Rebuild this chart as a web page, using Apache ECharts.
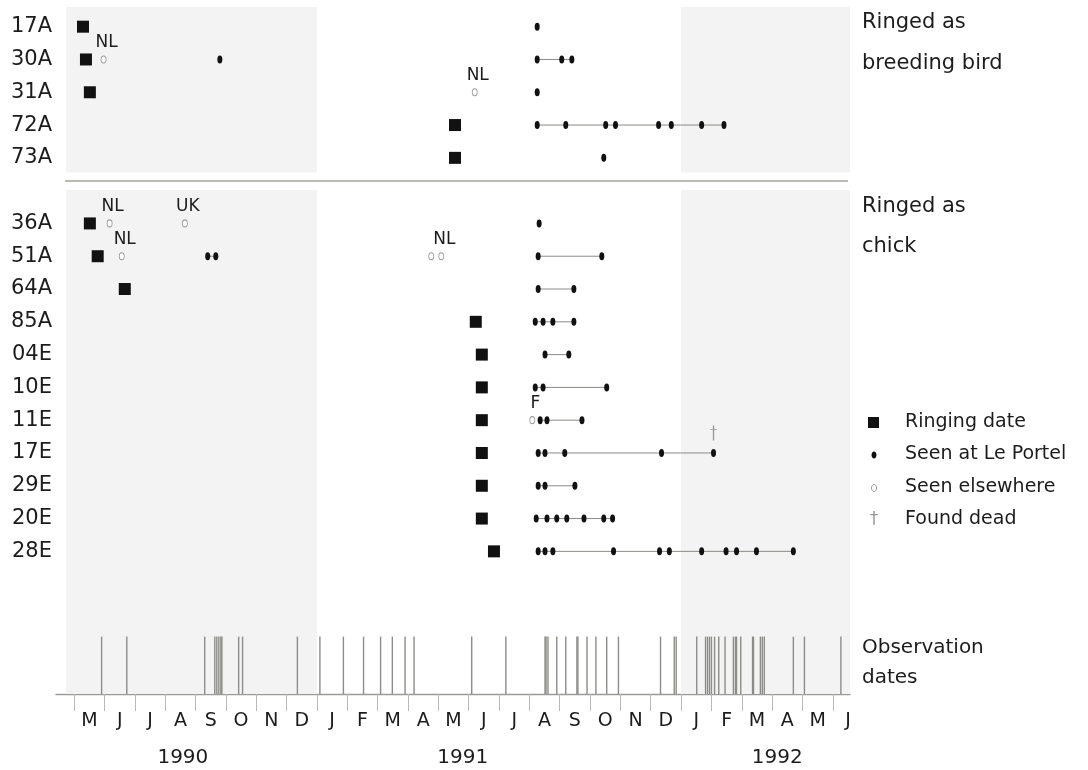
<!DOCTYPE html>
<html><head><meta charset="utf-8">
<script src="https://cdn.jsdelivr.net/npm/echarts@6/dist/echarts.min.js"></script>
<style>html,body{margin:0;padding:0;background:#fff}#c{width:1088px;height:770px}</style>
</head><body><div id="c"></div>
<script>
// ---------------- DATA ----------------
const breedingBirds = ['17A','30A','31A','72A','73A'];
const chickBirds = ['36A','51A','64A','85A','04E','10E','11E','17E','29E','20E','28E'];

// ringing date per bird (same order: breeding then chick)
const ringingDates = [
  '1990-05-10','1990-05-13','1990-05-17','1991-05-18','1991-05-18',
  '1990-05-17','1990-05-25','1990-06-21','1991-06-08','1991-06-14','1991-06-14',
  '1991-06-14','1991-06-14','1991-06-14','1991-06-14','1991-06-26'
];

// sightings at Le Portel per bird
const portelSightings = [
  ['1991-08-09'],
  ['1990-09-25','1991-08-09','1991-09-03','1991-09-13'],
  ['1991-08-09'],
  ['1991-08-09','1991-09-07','1991-10-17','1991-10-27','1991-12-09','1991-12-22','1992-01-22','1992-02-13'],
  ['1991-10-15'],
  ['1991-08-11'],
  ['1990-09-13','1990-09-21','1991-08-10','1991-10-13'],
  ['1991-08-10','1991-09-15'],
  ['1991-08-07','1991-08-15','1991-08-25','1991-09-15'],
  ['1991-08-17','1991-09-10'],
  ['1991-08-07','1991-08-15','1991-10-18'],
  ['1991-08-12','1991-08-19','1991-09-23'],
  ['1991-08-10','1991-08-17','1991-09-06','1991-12-12','1992-02-03'],
  ['1991-08-10','1991-08-17','1991-09-16'],
  ['1991-08-08','1991-08-19','1991-08-29','1991-09-08','1991-09-25','1991-10-15','1991-10-24'],
  ['1991-08-10','1991-08-17','1991-08-25','1991-10-25','1991-12-10','1991-12-20','1992-01-22','1992-02-15','1992-02-25','1992-03-16','1992-04-22']
];

// sightings elsewhere: bird, date, place
const elsewhereBirds  = ['30A','31A','36A','36A','51A','51A','51A','11E'];
const elsewhereDates  = ['1990-05-31','1991-06-07','1990-06-06','1990-08-21','1990-06-18','1991-04-24','1991-05-04','1991-08-04'];
const elsewherePlaces = ['NL','NL','NL','UK','NL','NL','NL','F'];

// found dead
const deadBirds = ['17E'];
const deadDates = ['1992-02-03'];

// observation dates
const observationDates = [
  '1990-05-29','1990-06-23','1990-09-10','1990-09-20','1990-09-22','1990-09-24','1990-09-26','1990-09-27',
  '1990-10-14','1990-10-18','1990-12-12',
  '1991-01-04','1991-01-28','1991-02-16','1991-03-04','1991-03-16','1991-03-29','1991-04-07','1991-06-04',
  '1991-07-08','1991-08-17','1991-08-18','1991-08-20','1991-08-29','1991-09-07','1991-09-18','1991-09-19',
  '1991-09-28','1991-10-07','1991-10-18','1991-10-30','1991-12-11','1991-12-25','1991-12-27',
  '1992-01-17','1992-01-26','1992-01-28','1992-01-30','1992-02-01','1992-02-04','1992-02-08','1992-02-14',
  '1992-02-22','1992-02-24','1992-02-25','1992-02-29','1992-03-12','1992-03-13','1992-03-20','1992-03-22',
  '1992-03-24','1992-04-22','1992-05-03','1992-06-09'
];

// shaded periods (start, end)
const shadedStarts = ['1990-04-23','1992-01-01'];
const shadedEnds   = ['1991-01-01','1992-06-18'];

// axis
const axisStart = '1990-04-13';
const axisEnd = '1992-06-18';
const monthLetters = ['M','J','J','A','S','O','N','D','J','F','M','A','M','J','J','A','S','O','N','D','J','F','M','A','M','J'];
const yearLabels = ['1990','1991','1992'];
const yearLabelDates = ['1990-08-19','1991-05-26','1992-04-06'];

// ---------------- LAYOUT ----------------
const FONT = 'DejaVu Sans, Liberation Sans, Arial, sans-serif';
const TXT = '#1c1c1c';
const Y_MIN = -0.6, Y_MAX = 20.35;
const SEP_ROW = 4.71, GAP_TOP = 4.45, GAP_BOTTOM = 4.98, OBS_TOP = 18.6;

// months since 1 May 1990 (axis scale)
function toM(s){
  const p = s.split('-').map(Number);
  const dim = new Date(p[0], p[1], 0).getDate();
  return (p[0]-1990)*12 + (p[1]-5) + (p[2]-1)/dim;
}
const X_MIN = toM(axisStart), X_MAX = toM(axisEnd);

const birds = breedingBirds.concat(chickBirds);
const rowOf = {};
breedingBirds.forEach((b,i)=>rowOf[b]=i);
chickBirds.forEach((b,i)=>rowOf[b]=i+breedingBirds.length+1);
const rowName = {};
birds.forEach(b=>rowName[rowOf[b]]=b);

const ringData = birds.map((b,i)=>[toM(ringingDates[i]), rowOf[b]]);
const portelData = [];
const trackData = [];
birds.forEach((b,i)=>{
  const ms = portelSightings[i].map(toM).sort((a,c)=>a-c);
  ms.forEach(m=>portelData.push([m,rowOf[b]]));
  let grp=[ms[0]];
  for(let k=1;k<=ms.length;k++){
    if(k<ms.length && ms[k]-ms[k-1] < 6){ grp.push(ms[k]); }
    else {
      if(grp.length>1) trackData.push([grp[0], grp[grp.length-1], rowOf[b]]);
      if(k<ms.length) grp=[ms[k]];
    }
  }
});
const elseData = elsewhereBirds.map((b,i)=>{
  const next = i+1<elsewhereBirds.length && elsewhereBirds[i+1]===b && elsewherePlaces[i+1]===elsewherePlaces[i]
               && toM(elsewhereDates[i+1])-toM(elsewhereDates[i])<1;
  return {name: elsewherePlaces[i], value:[toM(elsewhereDates[i]), rowOf[b]], label:{show: !next}};
});
const deadData = deadBirds.map((b,i)=>[toM(deadDates[i]), rowOf[b]]);
const obsData = observationDates.map(d=>[toM(d), OBS_TOP]);

const shadeAreas = [];
shadedStarts.forEach((s,i)=>{
  const a = toM(s), e = Math.min(toM(shadedEnds[i]), X_MAX);
  shadeAreas.push([{coord:[a,Y_MIN]},{coord:[e,GAP_TOP]}]);
  shadeAreas.push([{coord:[a,GAP_BOTTOM]},{coord:[e,Y_MAX]}]);
});

const monthStarts = monthLetters.map((_,i)=>i);
const monthMids = monthLetters.map((_,i)=>i+0.5);
const yearPos = yearLabelDates.map(toM);

const chart = echarts.init(document.getElementById('c'), null, {renderer:'canvas'});
const option = {
  animation:false,
  backgroundColor:'#fff',
  grid:{left:56, right:238, top:7, bottom:76},
  xAxis:[{
    type:'value', min:X_MIN, max:X_MAX, position:'bottom',
    axisLine:{show:true, onZero:false, lineStyle:{color:'#9a9a96', width:1.3}},
    axisTick:{show:true, customValues:monthStarts, length:17, lineStyle:{color:'#b8b8b4', width:1}},
    axisLabel:{customValues:monthMids, margin:18, fontSize:19, fontFamily:FONT, color:TXT,
      formatter:v=>monthLetters[Math.floor(v+1e-6)]},
    splitLine:{show:false}
  },{
    type:'value', min:X_MIN, max:X_MAX, position:'bottom',
    axisLine:{show:false, onZero:false}, axisTick:{show:false}, splitLine:{show:false},
    axisLabel:{customValues:yearPos, margin:54, fontSize:20, fontFamily:FONT, color:TXT,
      formatter:v=>{let k=0,b=1e9;yearPos.forEach((p,i)=>{if(Math.abs(p-v)<b){b=Math.abs(p-v);k=i;}});return yearLabels[k];}}
  }],
  yAxis:{
    type:'value', inverse:true, min:Y_MIN, max:Y_MAX,
    axisLine:{show:false, onZero:false}, axisTick:{show:false}, splitLine:{show:false},
    axisLabel:{customValues:birds.map(b=>rowOf[b]), margin:4, fontSize:21, fontFamily:FONT, color:TXT,
      formatter:v=>rowName[Math.round(v)]}
  },
  series:[
    {
      name:'Observation dates', type:'custom', data:obsData, encode:{x:0,y:1}, z:2, silent:true,
      renderItem:(params, api)=>{
        const t = api.coord([api.value(0), api.value(1)]);
        const b = api.coord([api.value(0), Y_MAX]);
        return {type:'line', shape:{x1:t[0],y1:t[1],x2:b[0],y2:b[1]}, style:{stroke:'#8c8c88', lineWidth:1.4}};
      },
      markArea:{silent:true, itemStyle:{color:'#f3f3f3'}, data:shadeAreas}
    },
    {
      name:'tracks', type:'custom', data:trackData, encode:{x:[0,1], y:2}, z:3, silent:true,
      renderItem:(params, api)=>{
        const p1 = api.coord([api.value(0), api.value(2)]);
        const p2 = api.coord([api.value(1), api.value(2)]);
        return {type:'line', shape:{x1:p1[0],y1:p1[1],x2:p2[0],y2:p2[1]}, style:{stroke:'#8a8a86', lineWidth:1}};
      },
      markLine:{silent:true, symbol:['none','none'], label:{show:false},
        lineStyle:{color:'#a3a39c', width:1.5, type:'solid'},
        data:[[{coord:[-0.3,SEP_ROW]},{coord:[25.5,SEP_ROW]}]]}
    },
    {name:'Ringing date', type:'scatter', data:ringData, symbol:'rect', symbolSize:12, z:5,
      itemStyle:{color:'#111', opacity:1}},
    {name:'Seen at Le Portel', type:'scatter', data:portelData, symbol:'circle', symbolSize:[5,8], z:5,
      itemStyle:{color:'#111', opacity:1}},
    {name:'Seen elsewhere', type:'scatter', data:elseData, symbol:'circle', symbolSize:[5,7], z:5,
      itemStyle:{color:'#fff', borderColor:'#9a9a9a', borderWidth:1, opacity:1},
      label:{position:'top', distance:4, offset:[3,0], formatter:p=>p.name, fontSize:17, fontFamily:FONT, color:TXT}},
    {name:'Found dead', type:'scatter', data:deadData, z:5,
      symbol:'path://M1.6,0 H2.4 V3 H4 V3.7 H2.4 V12 H1.6 V3.7 H0 V3 H1.6 Z', symbolSize:[7,15], symbolOffset:[0,-20],
      itemStyle:{color:'#9a9a9a', opacity:1}}
  ],
  graphic:[
    {type:'text', x:862, y:23, style:{text:'Ringed as', font:'21px '+FONT, fill:TXT, verticalAlign:'middle'}},
    {type:'text', x:862, y:64, style:{text:'breeding bird', font:'21px '+FONT, fill:TXT, verticalAlign:'middle'}},
    {type:'text', x:862, y:207, style:{text:'Ringed as', font:'21px '+FONT, fill:TXT, verticalAlign:'middle'}},
    {type:'text', x:862, y:247, style:{text:'chick', font:'21px '+FONT, fill:TXT, verticalAlign:'middle'}},
    {type:'text', x:862, y:648, style:{text:'Observation', font:'20px '+FONT, fill:TXT, verticalAlign:'middle'}},
    {type:'text', x:862, y:678, style:{text:'dates', font:'20px '+FONT, fill:TXT, verticalAlign:'middle'}},
    {type:'rect', shape:{x:868, y:417, width:11, height:11}, style:{fill:'#111'}},
    {type:'ellipse', shape:{cx:874, cy:455, rx:2.5, ry:3.5}, style:{fill:'#111'}},
    {type:'ellipse', shape:{cx:874, cy:488, rx:2.5, ry:3.5}, style:{fill:'#fff', stroke:'#9a9a9a', lineWidth:1}},
    {type:'text', x:874, y:520, style:{text:'†', font:'17px '+FONT, fill:'#9a9a9a', align:'center', verticalAlign:'middle'}},
    {type:'text', x:905, y:422, style:{text:'Ringing date', font:'19px '+FONT, fill:TXT, verticalAlign:'middle'}},
    {type:'text', x:905, y:454, style:{text:'Seen at Le Portel', font:'19px '+FONT, fill:TXT, verticalAlign:'middle'}},
    {type:'text', x:905, y:487, style:{text:'Seen elsewhere', font:'19px '+FONT, fill:TXT, verticalAlign:'middle'}},
    {type:'text', x:905, y:519, style:{text:'Found dead', font:'19px '+FONT, fill:TXT, verticalAlign:'middle'}}
  ]
};
chart.setOption(option);
</script></body></html>
